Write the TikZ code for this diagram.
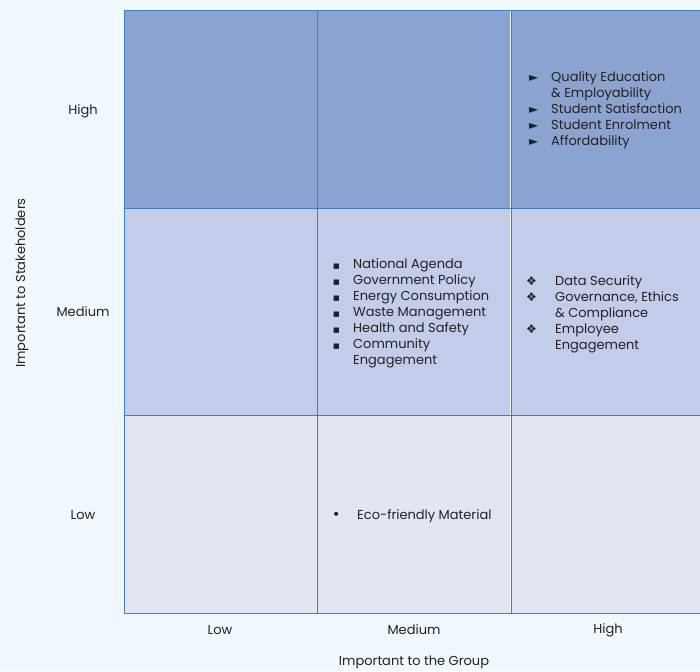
\documentclass[tikz,border=0pt]{standalone}
\usepackage{fontspec}
\setmainfont{Poppins}
\newfontfamily\symfont{DejaVu Sans}
\definecolor{pagebg}{HTML}{F0F7FD}
\definecolor{rowhigh}{HTML}{8BA3D0}
\definecolor{rowmed}{HTML}{C3CCE8}
\definecolor{rowlow}{HTML}{E2E6F2}
\definecolor{gridline}{HTML}{3C7FC4}
\definecolor{ink}{HTML}{222222}
\newcommand{\bul}[2]{{\symfont\fontsize{#1}{16}\selectfont #2}}
\begin{document}
\begin{tikzpicture}[x=1pt,y=-1pt,
  cell/.style={anchor=north west, inner sep=0pt, outer sep=0pt, minimum width=193pt},
  gridrule/.style={draw=gridline, line width=0.9pt},
  lbl/.style={text=ink, font=\fontsize{13}{16}\selectfont, inner sep=0pt},
  itemlist/.style={lbl, anchor=base west, align=left}]
\useasboundingbox (0,0) rectangle (700,671);
\fill[pagebg] (0,0) rectangle (700,671);

% grid cells: rows high / medium / low, columns low / medium / high
\node[cell, fill=rowhigh, minimum height=198pt] (hl) at (124,10) {};
\node[cell, fill=rowhigh, minimum height=198pt] (hm) at (317,10) {};
\node[cell, fill=rowhigh, minimum height=198pt, minimum width=200pt] (hh) at (511,10) {};
\node[cell, fill=rowmed, minimum height=207pt] (ml) at (124,208) {};
\node[cell, fill=rowmed, minimum height=207pt] (mm) at (317,208) {};
\node[cell, fill=rowmed, minimum height=207pt, minimum width=200pt] (mh) at (511,208) {};
\node[cell, fill=rowlow, minimum height=198pt] (ll) at (124,415) {};
\node[cell, fill=rowlow, minimum height=198pt] (lm) at (317,415) {};
\node[cell, fill=rowlow, minimum height=198pt, minimum width=200pt] (lh) at (511,415) {};

% grid rules
\draw[gridrule] (hl.north west) rectangle (lh.south east);
\draw[gridrule] (hm.north west) -- (lm.south west);
\draw[gridrule] (hh.north west) -- (lh.south west);
\draw[gridrule] (ml.north west) -- (mh.north east);
\draw[gridrule] (ll.north west) -- (lh.north east);

% cell contents
\node[itemlist] (listhh) at (529,82) {\begin{tabular}[t]{@{}p{22pt}@{}l@{}}
\bul{12}{►} & Quality Education\\
 & \& Employability\\
\bul{12}{►} & Student Satisfaction\\
\bul{12}{►} & Student Enrolment\\
\bul{12}{►} & Affordability
\end{tabular}};
\node[itemlist] (listmm) at (333,268) {\begin{tabular}[t]{@{}p{20pt}@{}l@{}}
\bul{7}{■} & National Agenda\\
\bul{7}{■} & Government Policy\\
\bul{7}{■} & Energy Consumption\\
\bul{7}{■} & Waste Management\\
\bul{7}{■} & Health and Safety\\
\bul{7}{■} & Community\\
 & Engagement
\end{tabular}};
\node[itemlist] (listmh) at (526,285) {\begin{tabular}[t]{@{}p{29pt}@{}l@{}}
\bul{12}{❖} & Data Security\\
\bul{12}{❖} & Governance, Ethics\\
 & \& Compliance\\
\bul{12}{❖} & Employee\\
 & Engagement
\end{tabular}};
\node[itemlist] (listlm) at (332,519) {\begin{tabular}[t]{@{}p{25pt}@{}l@{}}
\bul{14}{•} & Eco-friendly Material
\end{tabular}};

% axis category labels
\node[lbl] (yhigh) at (83,111) {High};
\node[lbl] (ymed) at (83,312) {Medium};
\node[lbl] (ylow) at (83,515) {Low};
\node[lbl] (xlow) at (220,630) {Low};
\node[lbl] (xmed) at (414,630) {Medium};
\node[lbl] (xhigh) at (608,630) {High};

% axis titles
\node[lbl] (xtitle) at (414,662) {Important to the Group};
\node[lbl, rotate=90] (ytitle) at (22,283) {Important to Stakeholders};
\end{tikzpicture}
\end{document}
